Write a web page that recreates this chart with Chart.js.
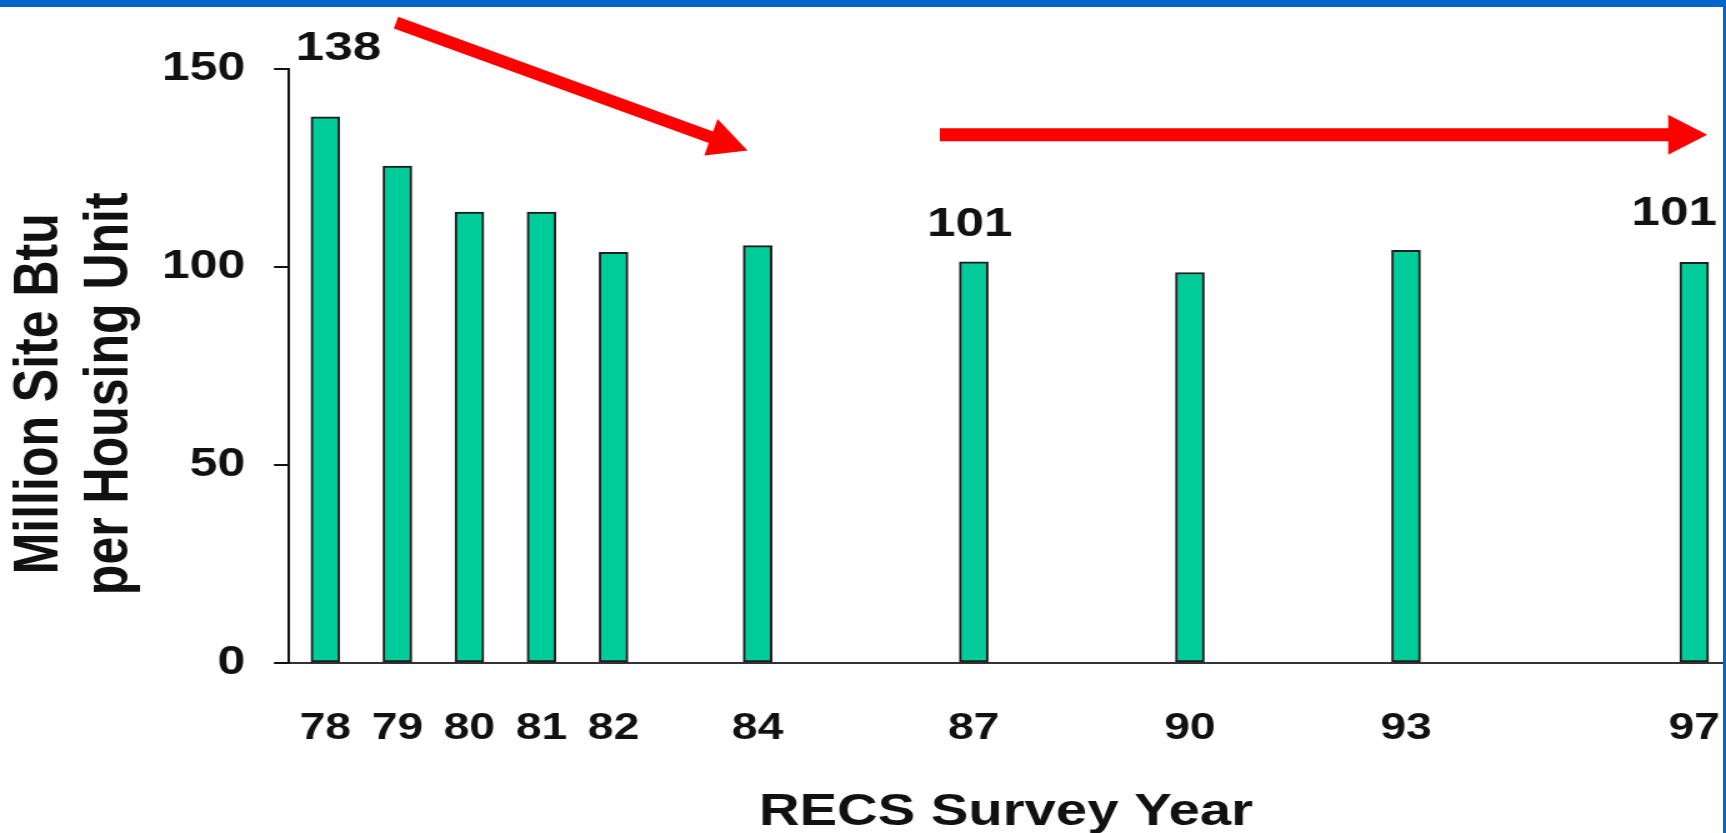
<!DOCTYPE html>
<html>
<head>
<meta charset="utf-8">
<script src="https://cdn.jsdelivr.net/npm/chart.js@4.4.1/dist/chart.umd.min.js"></script>
<style>
html,body{margin:0;padding:0;background:#fff;overflow:hidden;}
#wrap{position:relative;width:1726px;height:833px;overflow:hidden;background:#fff;}
#chart{position:absolute;left:0;top:0;transform-origin:0 0;transform:scaleX(1.24982);}
.bt{position:absolute;left:0;top:0;width:1726px;height:7px;background:#0566C9;}
.br{position:absolute;right:0;top:0;width:3px;height:833px;background:#0566C9;}
</style>
</head>
<body>
<div id="wrap">
<canvas id="chart" width="1381" height="833" style="width:1381px;height:833px"></canvas>
<div class="bt"></div><div class="br"></div>
</div>
<script>
// ---- data ----
const years = [78, 79, 80, 81, 82, 84, 87, 90, 93, 97];
const yearLabels = ['78', '79', '80', '81', '82', '84', '87', '90', '93', '97'];
const consumption = [137.9, 125.5, 113.9, 113.9, 103.7, 105.4, 101.3, 98.6, 104.2, 101.2];
const yTickValues = [0, 50, 100, 150];
const labeledYears = [78, 87, 97];
const labeledTexts = ['138', '101', '101'];
const xTitle = 'RECS Survey Year';
const yTitle = ['Million Site Btu', 'per Housing Unit'];

// ---- styling / decoration ----
const FONT = "'Liberation Sans', Arial, Helvetica, sans-serif";
const S = 1726 / 1381; // horizontal stretch applied by CSS
const arrowSpecs = [
  { from: [78.98, 161.7], to: [83.86, 129.4], half: 6.2, headLen: 39, headHalf: 19.5 },
  { from: [86.53, 133.4], to: [97.18, 133.4], half: 6.4, headLen: 39, headHalf: 20 }
];
const labelOffsets = { 78: [10.5, -67.8], 87: [-3.2, -37.3], 97: [-16, -48.3] };

const arrowPlugin = {
  id: 'arrows',
  afterDatasetsDraw(chart) {
    const { ctx, scales: { x, y } } = chart;
    ctx.save();
    ctx.fillStyle = '#FF0000';
    arrowSpecs.forEach(a => {
      const x0 = x.getPixelForValue(a.from[0]) * S, y0 = y.getPixelForValue(a.from[1]);
      const x1 = x.getPixelForValue(a.to[0]) * S, y1 = y.getPixelForValue(a.to[1]);
      const dx = x1 - x0, dy = y1 - y0, L = Math.hypot(dx, dy);
      const ux = dx / L, uy = dy / L, nx = -uy, ny = ux;
      const bx = x1 - ux * a.headLen, by = y1 - uy * a.headLen;
      const pts = [
        [x0 + nx * a.half, y0 + ny * a.half],
        [bx + nx * a.half, by + ny * a.half],
        [bx + nx * a.headHalf, by + ny * a.headHalf],
        [x1, y1],
        [bx - nx * a.headHalf, by - ny * a.headHalf],
        [bx - nx * a.half, by - ny * a.half],
        [x0 - nx * a.half, y0 - ny * a.half]
      ];
      ctx.beginPath();
      pts.forEach((p, i) => i ? ctx.lineTo(p[0] / S, p[1]) : ctx.moveTo(p[0] / S, p[1]));
      ctx.closePath();
      ctx.fill();
    });
    ctx.restore();
  }
};

const valueLabelPlugin = {
  id: 'valueLabels',
  afterDatasetsDraw(chart) {
    const { ctx, scales: { x, y } } = chart;
    ctx.save();
    ctx.fillStyle = '#111';
    ctx.font = 'bold 41px ' + FONT;
    ctx.textAlign = 'center';
    ctx.textBaseline = 'middle';
    labeledYears.forEach((yr, i) => {
      const v = consumption[years.indexOf(yr)];
      const off = labelOffsets[yr] || [0, -40];
      ctx.fillText(labeledTexts[i], x.getPixelForValue(yr) + off[0], y.getPixelForValue(v) + off[1]);
    });
    ctx.restore();
  }
};

new Chart(document.getElementById('chart'), {
  type: 'bar',
  data: {
    datasets: [{
      label: 'Million Site Btu per Housing Unit',
      data: years.map((yr, i) => ({ x: yr, y: consumption[i] })),
      backgroundColor: '#00CC99',
      borderColor: '#1E1E1E',
      borderWidth: 2,
      borderSkipped: false,
      barThickness: 23
    }]
  },
  options: {
    responsive: false,
    animation: false,
    devicePixelRatio: 1,
    layout: { padding: { top: 69, right: 2.4, bottom: 0, left: 0 } },
    plugins: { legend: { display: false }, tooltip: { enabled: false } },
    scales: {
      x: {
        type: 'linear',
        min: 77.495,
        max: 97.40,
        offset: false,
        afterBuildTicks: s => { s.ticks = years.map(v => ({ value: v })); },
        afterFit: s => { s.height = 170; s.paddingLeft = 0; s.paddingRight = 0; },
        grid: { display: false, drawTicks: false, offset: false },
        border: { display: true, color: '#333', width: 2 },
        ticks: {
          autoSkip: false, maxRotation: 0, minRotation: 0, padding: 44, color: '#111',
          font: { family: FONT, size: 37, weight: 'bold' },
          callback: v => { const i = years.indexOf(v); return i >= 0 ? yearLabels[i] : ''; }
        },
        title: {
          display: true, text: xTitle, color: '#111',
          font: { family: FONT, size: 45, weight: 'bold', lineHeight: 1 },
          padding: { top: 0, bottom: -2 }
        }
      },
      y: {
        min: 0,
        max: 150,
        afterBuildTicks: s => { s.ticks = yTickValues.map(v => ({ value: v })); },
        afterFit: s => { s.width = 231.2; s.paddingTop = 0; s.paddingBottom = 0; },
        grid: { drawOnChartArea: false, drawTicks: true, tickLength: 12, color: '#111', lineWidth: 2 },
        border: { display: true, color: '#111', width: 2 },
        ticks: {
          padding: 23, color: '#111',
          font: { family: FONT, size: 40, weight: 'bold' }
        },
        title: {
          display: true,
          text: yTitle.map(t => t + '    '),
          color: '#111',
          font: { family: FONT, size: 50, weight: 'bold', lineHeight: 1.12 },
          padding: { top: 4, bottom: 0 }
        }
      }
    }
  },
  plugins: [arrowPlugin, valueLabelPlugin]
});
</script>
</body>
</html>
